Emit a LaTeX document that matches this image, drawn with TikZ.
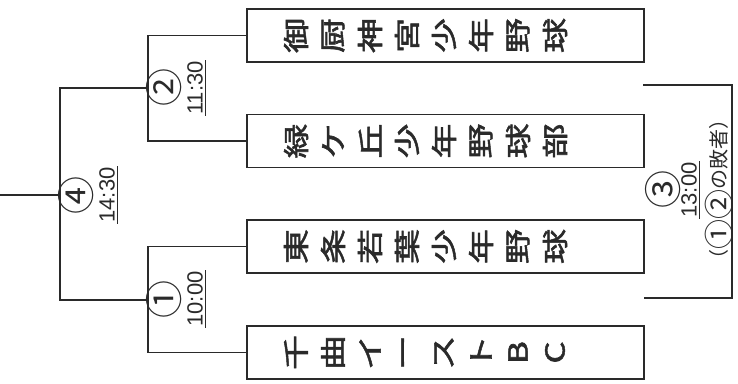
\documentclass[tikz,border=0pt]{standalone}
\usepackage{fontspec}
\setmainfont{Liberation Sans}
\newfontfamily\jp{Noto Sans CJK JP}
\newfontfamily\jpm{Noto Sans CJK JP}[FakeBold=1.8]
\definecolor{ink}{HTML}{2A2A2A}
\newcommand\jsq[1]{\scalebox{1}[0.75]{#1}}
\newcommand\bigcn[1]{\raisebox{-0.22em}{\scalebox{1.5}{#1}}}
\begin{document}
\begin{tikzpicture}[x=1pt,y=-1pt,
  line/.style={draw=ink, line width=1.5pt},
  teambox/.style={draw=ink, line width=1.6pt, minimum width=397pt, minimum height=53pt, inner sep=0pt},
  jplain/.style={inner sep=0pt, text=ink, font=\jpm\fontsize{35}{35}\selectfont},
  jchar/.style={jplain, rotate=90},
  circnum/.style={rotate=90, inner sep=0pt, text=ink, font=\jp\fontsize{38}{38}\selectfont},
  timetxt/.style={rotate=90, inner xsep=1pt, inner ysep=2.5pt, text=ink, font=\fontsize{22}{22}\selectfont},
  losers/.style={rotate=90, inner sep=0pt, text=ink, font=\jp\fontsize{20}{20}\selectfont},
  uline/.style={draw=ink, line width=1.3pt}]
\useasboundingbox (0,0) rectangle (738,383);

% team boxes
\node[teambox] (b1) at (445.5,35.5) {};
\node[teambox] (b2) at (445.5,141) {};
\node[teambox] (b3) at (445.5,246.5) {};
\node[teambox] (b4) at (445.5,352.5) {};

% team names (vertical writing, turned)
\foreach \c [count=\i from 0] in {御,厨,神,宮,少,年,野,球}
  \node[jchar] (b1c\i) at (296+37*\i,35.5) {\jsq{\c}};
\foreach \c [count=\i from 0] in {緑,ケ,丘,少,年,野,球,部}
  \node[jchar] (b2c\i) at (296+37*\i,141) {\jsq{\c}};
\foreach \c [count=\i from 0] in {東,条,若,葉,少,年,野,球}
  \node[jchar] (b3c\i) at (296+37*\i,246.5) {\jsq{\c}};
\foreach \c [count=\i from 0] in {千,曲,イ,ー,ス,ト,B,C}
  \node[jchar] (b4c\i) at (296+37*\i,352.5) {\jsq{\c}};

% bracket junctions
\coordinate (j2) at (148,88);
\coordinate (j1) at (148,300);
\coordinate (j4) at (60,195);
\coordinate (e4) at (0,195);
\coordinate (c3a) at (643,85);
\coordinate (c3r) at (732,191);
\coordinate (c3b) at (644,298);

\draw[line] (b1.west) -| (j2) |- (b2.west);
\draw[line] (b3.west) -| (j1) |- (b4.west);
\draw[line] (j2) -| (j4) |- (j1);
\draw[line] (e4) -- (j4);
\draw[line] (c3a) -| (c3r) |- (c3b);

% match labels
\node[circnum] (n2) at (164,87) {②};
\node[timetxt] (t2) at (195,88) {11:30};
\draw[uline] (t2.south west) -- (t2.south east);

\node[circnum] (n1) at (164,299) {①};
\node[timetxt] (t1) at (195,299) {10:00};
\draw[uline] (t1.south west) -- (t1.south east);

\node[circnum] (n4) at (76,195) {④};
\node[timetxt] (t4) at (107,195) {14:30};
\draw[uline] (t4.south west) -- (t4.south east);

\node[circnum] (n3) at (663,189) {③};
\node[timetxt] (t3) at (689,190) {13:00};
\draw[uline] (t3.south west) -- (t3.south east);
\node[losers] (l3) at (719,189) {（\bigcn{①}\bigcn{②}の敗者）};
\end{tikzpicture}
\end{document}
